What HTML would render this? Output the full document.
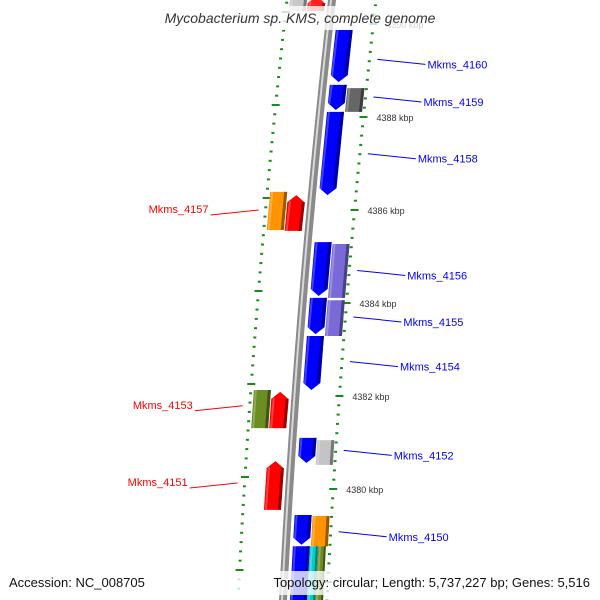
<!DOCTYPE html>
<html><head><meta charset="utf-8"><style>
html,body{margin:0;padding:0;background:#fff}
svg{display:block;font-family:"Liberation Sans",sans-serif}
</style></head><body>
<svg id="map" width="600" height="600" viewBox="0 0 600 600" xmlns="http://www.w3.org/2000/svg">
<defs>
<linearGradient id="bb" x1="0" x2="1" y1="0" y2="0">
<stop offset="0" stop-color="#9a9a9a"/><stop offset="0.35" stop-color="#d0d0d0"/><stop offset="0.7" stop-color="#888"/><stop offset="1" stop-color="#555"/>
</linearGradient>
</defs>
<g id="ticks"></g>
<g id="backbone"></g>
<g id="genes"></g>
<g id="labels"></g>
<rect x="145" y="6" width="310" height="24" fill="#fff" fill-opacity="0.78"/>
<text x="300" y="23" text-anchor="middle" font-size="14" font-style="italic" fill="#333">Mycobacterium sp. KMS, complete genome</text>
<rect x="0" y="571" width="600" height="24" fill="#fff" fill-opacity="0.78"/>
<text x="9" y="587" font-size="13" fill="#111">Accession: NC_008705</text>
<text x="590" y="587" text-anchor="end" font-size="13" fill="#111">Topology: circular; Length: 5,737,227 bp; Genes: 5,516</text>
</svg>
<script>
// position (kbp) data
const geneNames = ["top-gray","top-red","Mkms_4160","Mkms_4159","Mkms_4159b","Mkms_4158","Mkms_4157","Mkms_4157b","Mkms_4156","Mkms_4156b","Mkms_4155","Mkms_4155b","Mkms_4154","Mkms_4153","Mkms_4153b","Mkms_4152","Mkms_4152b","Mkms_4151","Mkms_4150","Mkms_4150b","Mkms_4149","Mkms_4149b","Mkms_4149c"];
const geneStart = [4390.6,4390.6,4389.87,4388.69,4388.62,4388.11,4386.39,4386.32,4385.31,4385.27,4384.11,4384.06,4383.29,4382.13,4382.09,4381.10,4381.05,4380.60,4379.44,4379.42,4378.77,4378.77,4378.77];
const geneEnd   = [4390.28,4390.28,4388.75,4388.15,4388.11,4386.32,4385.57,4385.55,4384.15,4384.11,4383.33,4383.29,4382.13,4381.31,4381.31,4380.56,4380.52,4379.55,4378.80,4378.77,4377.3,4377.3,4377.3];
const geneStrand = [0,1,-1,-1,0,-1,0,1,-1,0,-1,0,-1,0,1,-1,0,1,-1,0,-1,0,0];
const geneLane = ["LO","LI","RI","RI","RO","RI","LO","LI","RI","RO","RI","RO","RI","LO","LI","RI","RO","LI","RI","RO","RI","RC","RD"];
const geneColor = ["#c8c8c8","#ff2020","#0000ff","#0000ff","#666666","#0000ff","#ff9400","#ff0000","#0000ff","#7a6ad8","#0000ff","#7a6ad8","#0000ff","#6b8e23","#ff0000","#0000ff","#c4c4c4","#ff0000","#0000ff","#ff9400","#0000ff","#00cccc","#6b8e23"];
const labelNames = ["Mkms_4160","Mkms_4159","Mkms_4158","Mkms_4157","Mkms_4156","Mkms_4155","Mkms_4154","Mkms_4153","Mkms_4152","Mkms_4151","Mkms_4150"];
const labelKbp = [4389.24,4388.43,4387.21,4386.00,4384.70,4383.70,4382.74,4381.79,4380.83,4380.13,4379.08];
const labelSide = [1,1,1,-1,1,1,1,-1,1,-1,1];
const majorTicks = [4380,4382,4384,4386,4388,4390];
const tickLabels = ["4380 kbp","4382 kbp","4384 kbp","4386 kbp","4388 kbp","4390 kbp"];

const NS="http://www.w3.org/2000/svg";
function Y(k){return 303-(k-4384)*46.5;}
function BX(y){return 332-0.1131*y+0.0000524*y*y;}
const lanes={RI:[7,24],RO:[25,42],LI:[-24,-7],LO:[-42,-25],RC:[24,32],RD:[32,40]};
function mk(t,a,p){const e=document.createElementNS(NS,t);for(const k in a)e.setAttribute(k,a[k]);p.appendChild(e);return e;}
function shade(c,f){const n=parseInt(c.slice(1),16);let r=n>>16,g=(n>>8)&255,b=n&255;r=Math.round(r*f);g=Math.round(g*f);b=Math.round(b*f);return "rgb("+r+","+g+","+b+")";}

// backbone
const bb=document.getElementById('backbone');
let pts=[],pts2=[];
for(let y=-5;y<=605;y+=5){pts.push((BX(y)-4)+","+y);pts2.unshift((BX(y)+4)+","+y);}
const bbp=mk('polygon',{points:pts.concat(pts2).join(' '),fill:'#8a8a8a'},bb);


let pl=[];for(let y=-5;y<=605;y+=5)pl.push((BX(y)-1)+","+y);
const hl=mk('polyline',{points:pl.join(' '),fill:'none',stroke:'#d8d8d8','stroke-width':2},bb);



// ticks
const tg=document.getElementById('ticks');
for(let i=0;i<=70;i++){
  const k=4377+i*0.2;const y=Y(k);if(y<-5||y>605)continue;
  const major=Math.abs(k-Math.round(k))<0.01&&Math.round(k)%2===0;
  const xr=BX(y)+44;
  const r=mk('rect',{x:xr-(major?4:1.5),y:y-1,width:major?8:3,height:2,fill:'#1a8a1a'},tg);
  
  
  const yl=y-12;const xl=BX(yl)-45;
  const l=mk('rect',{x:xl-(major?4:1.5),y:yl-1,width:major?8:3,height:2,fill:'#1a8a1a'},tg);
  
  
}
majorTicks.forEach((k,i)=>{
  const y=Y(k);
  const t=mk('text',{x:BX(y)+57,y:y+4,'font-size':9,fill:'#333'},tg);
  t.textContent=tickLabels[i];
  
  
});

// genes
const gg=document.getElementById('genes');
geneNames.forEach((n,i)=>{
  const y1=Y(geneStart[i]),y2=Y(geneEnd[i]);
  const [o1,o2]=lanes[geneLane[i]];
  const A=(y)=>BX(y)+o1,B=(y)=>BX(y)+o2,C=(y)=>BX(y)+(o1+o2)/2;
  let p;
  if(geneStrand[i]===-1){const s=y2-7;p=[[A(y1),y1],[B(y1),y1],[B(s),s],[C(y2),y2],[A(s),s]];}
  else if(geneStrand[i]===1){const s=y1+7;p=[[C(y1),y1],[B(s),s],[B(y2),y2],[A(y2),y2],[A(s),s]];}
  else p=[[A(y1),y1],[B(y1),y1],[B(y2),y2],[A(y2),y2]];
  const g=mk('g',{},gg);
  
  
  mk('polygon',{points:p.map(q=>q.join(',')).join(' '),fill:geneColor[i]},g);
  // darker right strip
  const w=o2-o1,d=Math.max(2,w*0.18);
  const sp=p.map(q=>[q[0],q[1]]);
  const strip=[[B(y1)-d,y1+(geneStrand[i]===1?7:0)],[B(y1),y1+(geneStrand[i]===1?7:0)],[B(y2),y2-(geneStrand[i]===-1?7:0)],[B(y2)-d,y2-(geneStrand[i]===-1?7:0)]];
  mk('polygon',{points:strip.map(q=>q.join(',')).join(' '),fill:shade(geneColor[i],0.6)},g);
  mk('polygon',{points:[[A(y1)+1,y1+(geneStrand[i]===1?6:0)],[A(y1)+3,y1+(geneStrand[i]===1?6:0)],[A(y2)+3,y2-(geneStrand[i]===-1?6:0)],[A(y2)+1,y2-(geneStrand[i]===-1?6:0)]].map(q=>q.join(',')).join(' '),fill:'#fff','fill-opacity':0.25},g);
});

// labels
const lg=document.getElementById('labels');
labelNames.forEach((n,i)=>{
  const y=Y(labelKbp[i]);const side=labelSide[i];
  const col=side>0?'#0000ff':'#ff0000';
  const x0=side>0?BX(y)+52:BX(y)-52;
  const x1=x0+side*48;
  const ln=mk('line',{x1:x0,y1:y,x2:x1,y2:y+5*side*(side>0?1:-1),stroke:col,'stroke-width':1},lg);
  
  
  const t=mk('text',{x:x1+side*2,y:y+(side>0?9:3),'font-size':11,fill:col,'text-anchor':side>0?'start':'end'},lg);
  t.textContent=n;
  
  
});
</script>
</body></html>
